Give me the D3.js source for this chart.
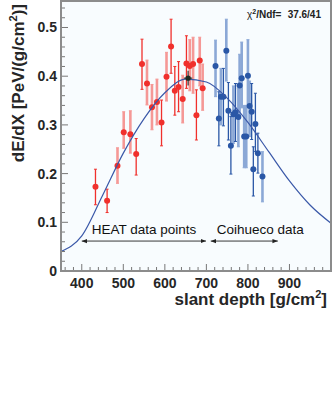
<!DOCTYPE html>
<html>
<head>
<meta charset="utf-8">
<script src="https://cdn.jsdelivr.net/npm/d3@7"></script>
<style>
  body { margin: 0; background: #fff; }
  svg { display: block; font-family: 'Liberation Sans', Arial, Helvetica, sans-serif; }
</style>
</head>
<body>
<div id="chart"></div>
<script>
// HEAT data points (red)
const heatDepth = [433, 461, 486, 501, 517, 531, 545, 557, 569, 581, 592, 604, 615, 624, 633, 643, 652, 660, 668, 676, 684, 691]
const heatValue = [0.173, 0.144, 0.216, 0.285, 0.281, 0.240, 0.425, 0.385, 0.336, 0.347, 0.305, 0.399, 0.461, 0.370, 0.378, 0.353, 0.426, 0.421, 0.425, 0.320, 0.432, 0.375]
const heatLow = [0.136, 0.120, 0.180, 0.252, 0.242, 0.197, 0.373, 0.341, 0.290, 0.300, 0.257, 0.349, 0.406, 0.320, 0.327, 0.304, 0.375, 0.370, 0.365, 0.269, 0.380, 0.330]
const heatHigh = [0.209, 0.168, 0.253, 0.327, 0.329, 0.272, 0.476, 0.433, 0.383, 0.394, 0.351, 0.449, 0.517, 0.420, 0.430, 0.402, 0.483, 0.475, 0.480, 0.372, 0.480, 0.425]
const heatBar = ['d', 'd', 'l', 'l', 'l', 'd', 'd', 'l', 'l', 'l', 'd', 'l', 'd', 'd', 'd', 'l', 'd', 'l', 'l', 'd', 'l', 'l']

// Coihueco data points (blue)
const coDepth = [722, 748, 730, 735, 741, 753, 759, 765, 770, 777, 780, 785, 791, 796, 800, 804, 809, 813, 818, 824, 835]
const coValue = [0.421, 0.452, 0.313, 0.358, 0.358, 0.329, 0.257, 0.322, 0.326, 0.316, 0.381, 0.396, 0.276, 0.276, 0.401, 0.339, 0.327, 0.209, 0.302, 0.242, 0.194]
const coLow = [0.358, 0.390, 0.257, 0.300, 0.298, 0.269, 0.199, 0.262, 0.266, 0.255, 0.320, 0.335, 0.212, 0.212, 0.340, 0.276, 0.270, 0.154, 0.245, 0.201, 0.142]
const coHigh = [0.474, 0.517, 0.368, 0.416, 0.416, 0.387, 0.317, 0.380, 0.385, 0.375, 0.445, 0.470, 0.340, 0.340, 0.475, 0.390, 0.385, 0.255, 0.365, 0.283, 0.245]
const coBar = ['l', 'l', 'd', 'l', 'd', 'd', 'd', 'l', 'd', 'l', 'l', 'l', 'l', 'l', 'l', 'l', 'd', 'd', 'd', 'd', 'l']

// fitted profile
const fitDepth = [350, 400, 450, 500, 550, 600, 650, 700, 750, 800, 850, 900, 950, 1000]
const fitValue = [0.040, 0.072, 0.155, 0.242, 0.313, 0.366, 0.394, 0.388, 0.355, 0.305, 0.245, 0.185, 0.135, 0.098]

// Xmax marker
const maxDepth = [656]
const maxValue = [0.396]
const maxDepthErr = [10]
const maxValueErr = [0.015]

const xTicks = [400, 500, 600, 700, 800, 900]
const yTicks = [0, 0.1, 0.2, 0.3, 0.4, 0.5]

const width = 332
const height = 398
const margin = { top: 1, right: 1, bottom: 127, left: 61 }

const x = d3.scaleLinear().domain([350, 1000]).range([margin.left, width - margin.right])
const y = d3.scaleLinear().domain([0, 0.5544]).range([height - margin.bottom, margin.top])

const svg = d3.select('#chart').append('svg')
  .attr('width', width)
  .attr('height', height)

// plot area
svg.append('rect')
  .attr('x', x(350)).attr('y', y(0.5544))
  .attr('width', x(1000) - x(350)).attr('height', y(0) - y(0.5544))
  .attr('fill', '#f8fcfe')

function bars(depth, value, low, high, kind, dark, light) {
  const g = svg.append('g')
  const idx = d3.range(depth.length)
  // light (thick) bars first, then dark ones
  ;['l', 'd'].forEach(k => {
    const sel = idx.filter(i => kind[i] === k)
    const col = k === 'l' ? light : dark
    const w = k === 'l' ? 2.6 : 1.3
    g.selectAll(null).data(sel).enter().append('line')
      .attr('x1', i => x(depth[i])).attr('x2', i => x(depth[i]))
      .attr('y1', i => y(low[i])).attr('y2', i => y(high[i]))
      .attr('stroke', col).attr('stroke-width', w)
    g.selectAll(null).data(sel.flatMap(i => [[i, low[i]], [i, high[i]]])).enter().append('line')
      .attr('x1', d => x(depth[d[0]]) - 1.5).attr('x2', d => x(depth[d[0]]) + 1.5)
      .attr('y1', d => y(d[1])).attr('y2', d => y(d[1]))
      .attr('stroke', col).attr('stroke-width', 1)
  })
  g.selectAll('circle').data(idx).enter().append('circle')
    .attr('cx', i => x(depth[i])).attr('cy', i => y(value[i]))
    .attr('r', 3)
    .attr('fill', dark)
}

bars(heatDepth, heatValue, heatLow, heatHigh, heatBar, '#f0302c', '#f59896')
bars(coDepth, coValue, coLow, coHigh, coBar, '#2a57a6', '#8ba8d6')

// fit curve
const line = d3.line()
  .x(i => x(fitDepth[i]))
  .y(i => y(fitValue[i]))
  .curve(d3.curveMonotoneX)

svg.append('path')
  .attr('d', line(d3.range(fitDepth.length)))
  .attr('fill', 'none')
  .attr('stroke', '#3a58a8')
  .attr('stroke-width', 1.2)

// Xmax with errors
const mx = svg.append('g').attr('stroke', '#333').attr('stroke-width', 1.2)
maxDepth.forEach((d, i) => {
  mx.append('line')
    .attr('x1', x(d - maxDepthErr[i])).attr('x2', x(d + maxDepthErr[i]))
    .attr('y1', y(maxValue[i])).attr('y2', y(maxValue[i]))
  mx.append('line')
    .attr('x1', x(d)).attr('x2', x(d))
    .attr('y1', y(maxValue[i] - maxValueErr[i])).attr('y2', y(maxValue[i] + maxValueErr[i]))
  mx.append('circle')
    .attr('cx', x(d)).attr('cy', y(maxValue[i])).attr('r', 2.6)
    .attr('fill', '#1d2a22').attr('stroke', 'none')
})

// annotations
const defs = svg.append('defs')
defs.append('marker')
  .attr('id', 'head')
  .attr('viewBox', '0 0 10 10')
  .attr('refX', 10).attr('refY', 5)
  .attr('markerWidth', 6).attr('markerHeight', 6)
  .attr('orient', 'auto-start-reverse')
  .append('path').attr('d', 'M0,1 L10,5 L0,9 z').attr('fill', '#222')

const arrowY = 0.0615
;[[400, 699], [710.5, 872]].forEach(a => {
  svg.append('line')
    .attr('x1', x(a[0])).attr('x2', x(a[1]))
    .attr('y1', y(arrowY)).attr('y2', y(arrowY))
    .attr('stroke', '#222').attr('stroke-width', 0.9)
    .attr('marker-start', 'url(#head)')
    .attr('marker-end', 'url(#head)')
})

svg.append('text')
  .attr('x', x(424)).attr('y', y(0.076))
  .attr('font-size', 13.5).attr('fill', '#111')
  .text('HEAT data points')
svg.append('text')
  .attr('x', x(725)).attr('y', y(0.076))
  .attr('font-size', 13.5).attr('fill', '#111')
  .text('Coihueco data')

const chi = svg.append('text')
  .attr('x', 247).attr('y', 18)
  .attr('font-size', 10).attr('font-weight', 'bold').attr('fill', '#222')
chi.append('tspan').attr('font-weight', 'normal').text('χ')
chi.append('tspan').attr('font-size', 7).attr('dy', -4).text('2')
chi.append('tspan').attr('dy', 4).text('/Ndf=')
svg.append('text')
  .attr('x', 321).attr('y', 18)
  .attr('text-anchor', 'end')
  .attr('font-size', 10).attr('font-weight', 'bold').attr('fill', '#222')
  .text('37.6/41')

// axes
const yAxis = svg.append('g')
yAxis.selectAll('line.minor').data(d3.range(0, 0.56, 0.02)).enter().append('line')
  .attr('x1', margin.left).attr('x2', d => margin.left + (Math.round(d * 100) % 10 === 0 ? 7 : 4))
  .attr('y1', d => y(d)).attr('y2', d => y(d))
  .attr('stroke', '#777').attr('stroke-width', 1)
yAxis.selectAll('text').data(yTicks).enter().append('text')
  .attr('x', 57).attr('y', d => y(d) + 5)
  .attr('text-anchor', 'end')
  .attr('font-size', 14).attr('font-weight', 'bold').attr('fill', '#262626')
  .text(d => d === 0 ? '0' : d.toFixed(1))

const xAxis = svg.append('g')
xAxis.selectAll('line').data(d3.range(360, 1000, 20)).enter().append('line')
  .attr('x1', d => x(d)).attr('x2', d => x(d))
  .attr('y1', y(0)).attr('y2', d => y(0) - (d % 100 === 0 ? 7 : 4))
  .attr('stroke', '#777').attr('stroke-width', 1)
xAxis.selectAll('text').data(xTicks).enter().append('text')
  .attr('x', d => x(d)).attr('y', 288)
  .attr('text-anchor', 'middle')
  .attr('font-size', 14).attr('font-weight', 'bold').attr('fill', '#262626')
  .text(d => d)

// frame
svg.append('rect')
  .attr('x', x(350)).attr('y', y(0.5544))
  .attr('width', x(1000) - x(350)).attr('height', y(0) - y(0.5544))
  .attr('fill', 'none').attr('stroke', '#8c8c8c').attr('stroke-width', 2)

// axis titles
const xt = svg.append('text')
  .attr('x', 327).attr('y', 305)
  .attr('text-anchor', 'end')
  .attr('font-size', 17).attr('font-weight', 'bold').attr('fill', '#262626')
xt.append('tspan').text('slant depth [g/cm')
xt.append('tspan').attr('font-size', 11).attr('dy', -7).text('2')
xt.append('tspan').attr('dy', 7).text(']')

const yt = svg.append('text')
  .attr('transform', 'translate(24,4) rotate(-90)')
  .attr('text-anchor', 'end')
  .attr('font-size', 17).attr('font-weight', 'bold').attr('fill', '#262626')
yt.append('tspan').text('dE/dX [PeV/(g/cm')
yt.append('tspan').attr('font-size', 11).attr('dy', -7).text('2')
yt.append('tspan').attr('dy', 7).text(')]')
</script>
</body>
</html>
